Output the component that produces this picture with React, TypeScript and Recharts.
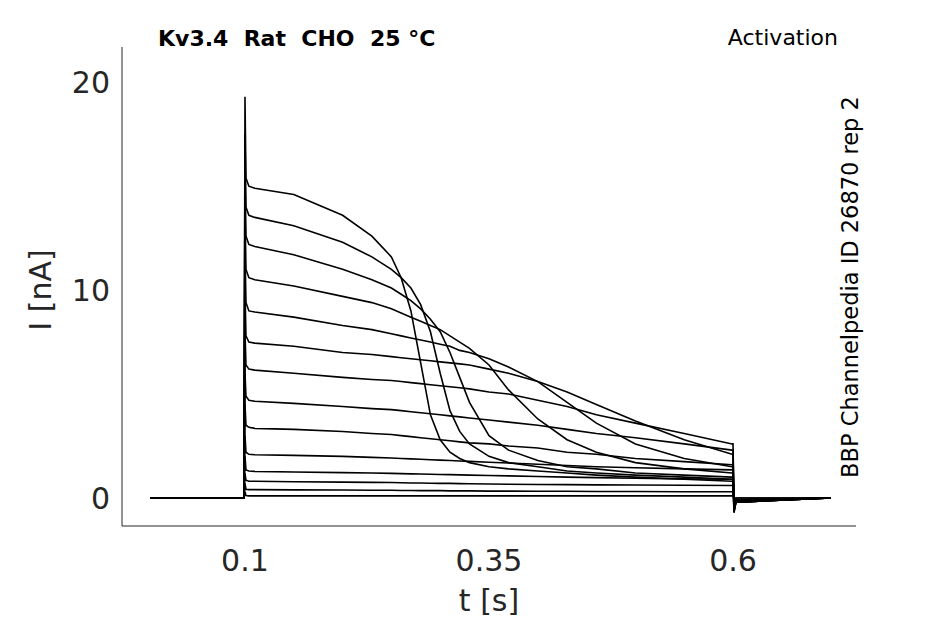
import React from "react";
import { LineChart, Line, XAxis, YAxis } from "recharts";

const times = [0.003,0.099,0.1,0.101,0.104,0.11,0.15,0.2,0.23,0.25,0.26,0.27,0.28,0.29,0.3,0.31,0.32,0.33,0.35,0.37,0.4,0.43,0.46,0.5,0.55,0.599,0.6,0.601,0.603,0.7];

const tr1 = [0,0,19.3,15.4,15.0,14.9,14.6,13.6,12.6,11.6,10.6,9.0,6.5,4.0,2.8,2.2,1.9,1.7,1.5,1.4,1.3,1.2,1.1,1.0,0.9,0.8,0.8,-0.7,-0.2,0];
const tr2 = [0,0,17.5,14.0,13.6,13.5,13.1,12.3,11.6,11.0,10.6,10.1,9.3,8.0,6.0,4.2,3.2,2.6,2.0,1.7,1.5,1.3,1.2,1.1,1.0,0.9,0.9,-0.7,-0.2,0];
const tr3 = [0,0,16.0,12.6,12.2,12.1,11.7,11.0,10.5,10.1,9.8,9.5,9.1,8.6,8.0,7.0,5.8,4.6,3.0,2.3,1.8,1.5,1.4,1.2,1.1,1.0,1.0,-0.6,-0.2,0];
const tr4 = [0,0,14.0,11.0,10.6,10.5,10.2,9.7,9.4,9.1,8.9,8.7,8.5,8.3,8.1,7.8,7.5,7.2,6.4,5.2,3.8,2.8,2.2,1.7,1.4,1.2,1.2,-0.6,-0.2,0];
const tr5 = [0,0,12.0,9.4,9.0,8.95,8.7,8.3,8.1,7.9,7.8,7.7,7.6,7.5,7.4,7.3,7.1,7.0,6.7,6.3,5.6,4.6,3.6,2.6,1.9,1.5,1.5,-0.5,-0.2,0];
const tr6 = [0,0,10.0,7.8,7.5,7.45,7.3,7.0,6.9,6.8,6.75,6.7,6.65,6.6,6.55,6.5,6.45,6.4,6.2,6.0,5.6,5.1,4.5,3.7,2.8,2.1,2.1,-0.5,-0.2,0];
const tr7 = [0,0,8.0,6.4,6.2,6.15,6.0,5.8,5.7,5.65,5.6,5.55,5.5,5.45,5.4,5.35,5.3,5.25,5.1,5.0,4.7,4.4,4.0,3.6,3.1,2.6,2.6,-0.4,-0.1,0];
const tr8 = [0,0,6.0,4.9,4.7,4.65,4.55,4.4,4.3,4.25,4.2,4.15,4.1,4.05,4.0,3.95,3.9,3.85,3.75,3.65,3.5,3.3,3.1,2.9,2.6,2.3,2.3,-0.4,-0.1,0];
const tr9 = [0,0,4.5,3.5,3.4,3.35,3.3,3.2,3.1,3.05,3.0,2.95,2.9,2.85,2.8,2.75,2.7,2.65,2.6,2.5,2.4,2.2,2.1,1.9,1.75,1.6,1.6,-0.3,-0.1,0];
const tr10 = [0,0,3.0,2.2,2.1,2.08,2.05,2.0,1.95,1.92,1.9,1.88,1.86,1.84,1.82,1.8,1.78,1.76,1.72,1.68,1.62,1.56,1.5,1.45,1.4,1.35,1.35,-0.3,-0.1,0];
const tr11 = [0,0,2.0,1.35,1.3,1.28,1.25,1.22,1.2,1.18,1.17,1.16,1.15,1.14,1.13,1.12,1.11,1.1,1.08,1.06,1.03,1.0,0.98,0.95,0.92,0.9,0.9,-0.2,-0.1,0];
const tr12 = [0,0,1.2,0.85,0.8,0.8,0.78,0.76,0.75,0.74,0.73,0.72,0.72,0.71,0.7,0.7,0.69,0.68,0.67,0.66,0.65,0.64,0.63,0.62,0.61,0.6,0.6,-0.2,-0.1,0];
const tr13 = [0,0,0.7,0.42,0.4,0.4,0.39,0.38,0.37,0.37,0.36,0.36,0.35,0.35,0.35,0.34,0.34,0.34,0.33,0.33,0.32,0.32,0.31,0.31,0.3,0.3,0.3,-0.1,0,0];
const tr14 = [0,0,0.3,0.12,0.1,0.1,0.1,0.1,0.1,0.1,0.1,0.1,0.1,0.1,0.1,0.1,0.1,0.1,0.1,0.1,0.1,0.1,0.1,0.1,0.1,0.1,0.1,0,0,0];

const traces = [tr1,tr2,tr3,tr4,tr5,tr6,tr7,tr8,tr9,tr10,tr11,tr12,tr13,tr14];
const xTicks = [0.1, 0.35, 0.6];
const yTicks = [0, 10, 20];

const data = times.map((t, i) => {
  const row: any = { t };
  traces.forEach((tr, k) => { row["s" + k] = tr[i]; });
  return row;
});

const font = "DejaVu Sans, sans-serif";

export default function App() {
  return (
    <div style={{ position: "absolute", left: 0, top: 0, width: 945, height: 624, background: "#fff", fontFamily: font }}>
      <LineChart width={945} height={624} data={data} margin={{ top: 47, right: 89, left: 0, bottom: 0 }}>
        <XAxis dataKey="t" type="number" domain={[-0.026, 0.726]} ticks={xTicks} height={98}
          tick={{ fontSize: 30, fill: "#262626", fontFamily: font, dy: 22 }} tickFormatter={(v) => String(v)}
          stroke="#262626" tickSize={0} allowDataOverflow />
        <YAxis type="number" domain={[-1.35, 21.7]} ticks={yTicks} width={122}
          tick={{ fontSize: 30, fill: "#262626", fontFamily: font, dx: -10 }} stroke="#262626" tickSize={0} allowDataOverflow />
        {traces.map((_, k) => (
          <Line key={k} dataKey={"s" + k} type="linear" stroke="#000" strokeWidth={1.6} dot={false} isAnimationActive={false} />
        ))}
      </LineChart>
      <div style={{ position: "absolute", left: 158, top: 26, fontSize: 22, fontWeight: "bold", whiteSpace: "pre", color: "#000" }}>Kv3.4  Rat  CHO  25 °C</div>
      <div style={{ position: "absolute", right: 107, top: 25, fontSize: 22, color: "#000" }}>Activation</div>
      <div style={{ position: "absolute", left: 489, top: 583, transform: "translateX(-50%)", fontSize: 30, color: "#262626" }}>t [s]</div>
      <div style={{ position: "absolute", left: 40, top: 290, transform: "translate(-50%,-50%) rotate(-90deg)", fontSize: 30, color: "#262626", whiteSpace: "nowrap" }}>I [nA]</div>
      <div style={{ position: "absolute", left: 850, top: 287, transform: "translate(-50%,-50%) rotate(-90deg)", fontSize: 22.5, color: "#000", whiteSpace: "nowrap" }}>BBP Channelpedia ID 26870 rep 2</div>
    </div>
  );
}
